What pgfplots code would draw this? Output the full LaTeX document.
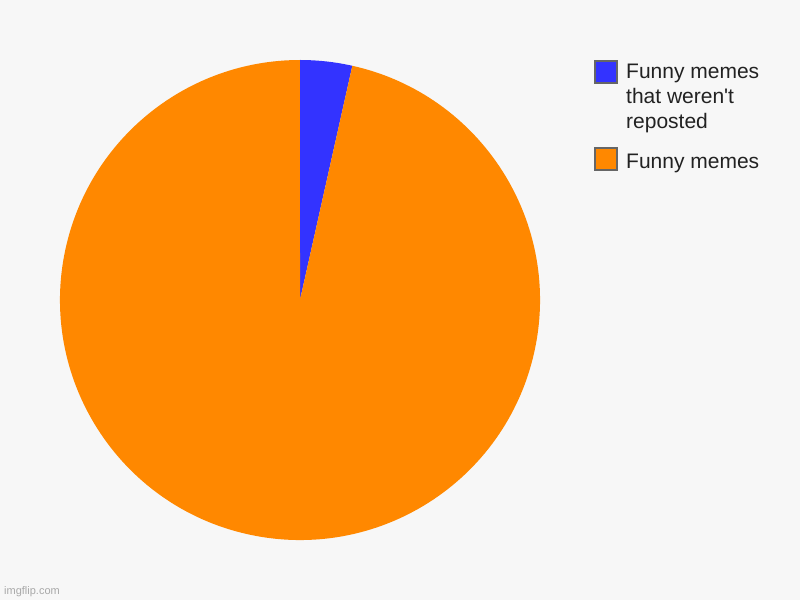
\documentclass[border=0pt]{standalone}
\usepackage{pgfplots}
\pgfplotsset{compat=1.18}
\usepackage{pgfplotstable}
\usepackage{fontspec}
\setmainfont{Liberation Sans}[Ligatures=TeXOff]
\definecolor{bg}{HTML}{F7F7F7}
\definecolor{sblue}{HTML}{3333FF}
\definecolor{sorange}{HTML}{FF8800}
\definecolor{txt}{HTML}{222222}
\definecolor{wm}{HTML}{A8A8A8}
\definecolor{bord}{HTML}{666666}
\pgfplotstableread{
label value
blue 3.5
orange 96.5
}\piedata
\begin{document}
\begin{tikzpicture}[x=1pt,y=1pt]
\fill[bg] (0,0) rectangle (800,600);
\begin{axis}[at={(0,0)},anchor=south west,scale only axis,
  width=800pt,height=600pt,xmin=0,xmax=800,ymin=0,ymax=600,
  hide axis,clip=false]
\pgfplotstablegetelem{0}{value}\of\piedata \let\va\pgfplotsretval
\pgfplotstablegetelem{1}{value}\of\piedata \let\vb\pgfplotsretval
\pgfmathsetmacro{\tot}{\va+\vb}
\pgfmathsetmacro{\angA}{90-360*(\va/\tot)}
\pgfmathsetmacro{\angB}{\angA-360*(\vb/\tot)}
\pgfmathsetmacro{\px}{300+240*cos(\angA)}
\pgfmathsetmacro{\py}{300+240*sin(\angA)}
\fill[sblue] (axis cs:300,300) -- (axis cs:300,540) arc[start angle=90,end angle=\angA,radius=240pt] -- cycle;
\fill[sorange] (axis cs:300,300) -- (axis cs:\px,\py) arc[start angle=\angA,end angle=\angB,radius=240pt] -- cycle;
% legend
\filldraw[fill=sblue,draw=bord,line width=1.5pt] (axis cs:595,517) rectangle (axis cs:617,539);
\filldraw[fill=sorange,draw=bord,line width=1.5pt] (axis cs:595,430) rectangle (axis cs:617,452);
\node[anchor=base west,inner sep=0,text=txt,font=\fontsize{21}{25}\selectfont] at (axis cs:626,521) {Funny memes};
\node[anchor=base west,inner sep=0,text=txt,font=\fontsize{21}{25}\selectfont] at (axis cs:626,496) {that weren't};
\node[anchor=base west,inner sep=0,text=txt,font=\fontsize{21}{25}\selectfont] at (axis cs:626,471) {reposted};
\node[anchor=base west,inner sep=0,text=txt,font=\fontsize{21}{25}\selectfont] at (axis cs:626,431) {Funny memes};
\node[anchor=base west,inner sep=0,text=wm,font=\fontsize{11}{13}\selectfont] at (axis cs:4,6) {imgflip.com};
\end{axis}
\end{tikzpicture}
\end{document}
